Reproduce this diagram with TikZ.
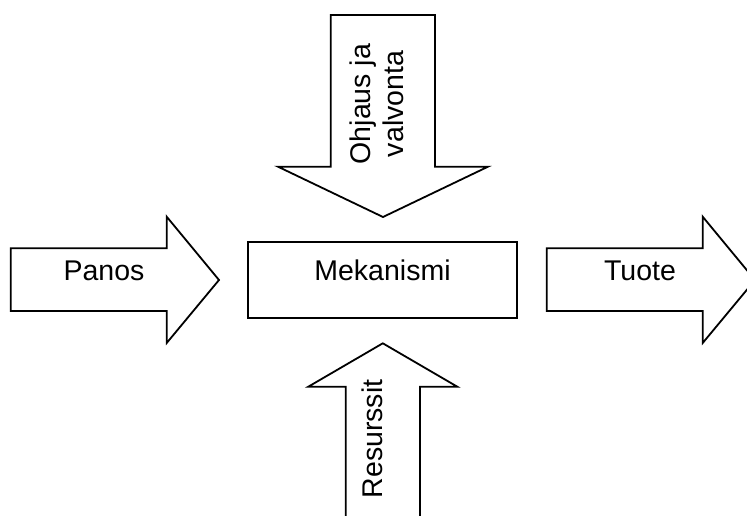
\documentclass[tikz,border=0pt]{standalone}
\usepackage{fontspec}
\setmainfont{Liberation Sans}
\begin{document}
\begin{tikzpicture}[x=1pt,y=-1pt,
  outline/.style={draw=black, line width=1.8pt, fill=white, line join=miter},
  label/.style={font=\fontsize{28.5}{33}\selectfont, inner sep=0pt}]
\useasboundingbox (0,0) rectangle (747,516);
\clip (0,0) rectangle (747,516);

% Mechanism box
\draw[outline] (248.3,242.3) rectangle (516.7,317.7);
\node[label] (mek) at (382.5,270.5) {Mekanismi};

% Control arrow from above
\draw[outline] (330.7,15) -- (435,15) -- (435,166.7) -- (488,166.7) -- (383,217)
  -- (278,166.7) -- (330.7,166.7) -- cycle;
\node[label, rotate=90, align=center] (ohj) at (377,104) {Ohjaus ja\\valvonta};

% Input arrow from the left
\draw[outline] (10.7,248.3) -- (166.7,248.3) -- (166.7,216.7) -- (219,280)
  -- (166.7,343) -- (166.7,311) -- (10.7,311) -- cycle;
\node[label] (pan) at (104,270.5) {Panos};

% Output arrow to the right
\draw[outline] (546.7,248.3) -- (702.7,248.3) -- (702.7,216.7) -- (755,280)
  -- (702.7,343) -- (702.7,311) -- (546.7,311) -- cycle;
\node[label] (tuo) at (640,270.5) {Tuote};

% Resource arrow from below
\draw[outline] (345.7,530) -- (345.7,386.7) -- (308.3,386.7) -- (382.8,343.3)
  -- (457.3,386.7) -- (420,386.7) -- (420,530);
\node[label, rotate=90] (res) at (372,439) {Resurssit};
\end{tikzpicture}
\end{document}
